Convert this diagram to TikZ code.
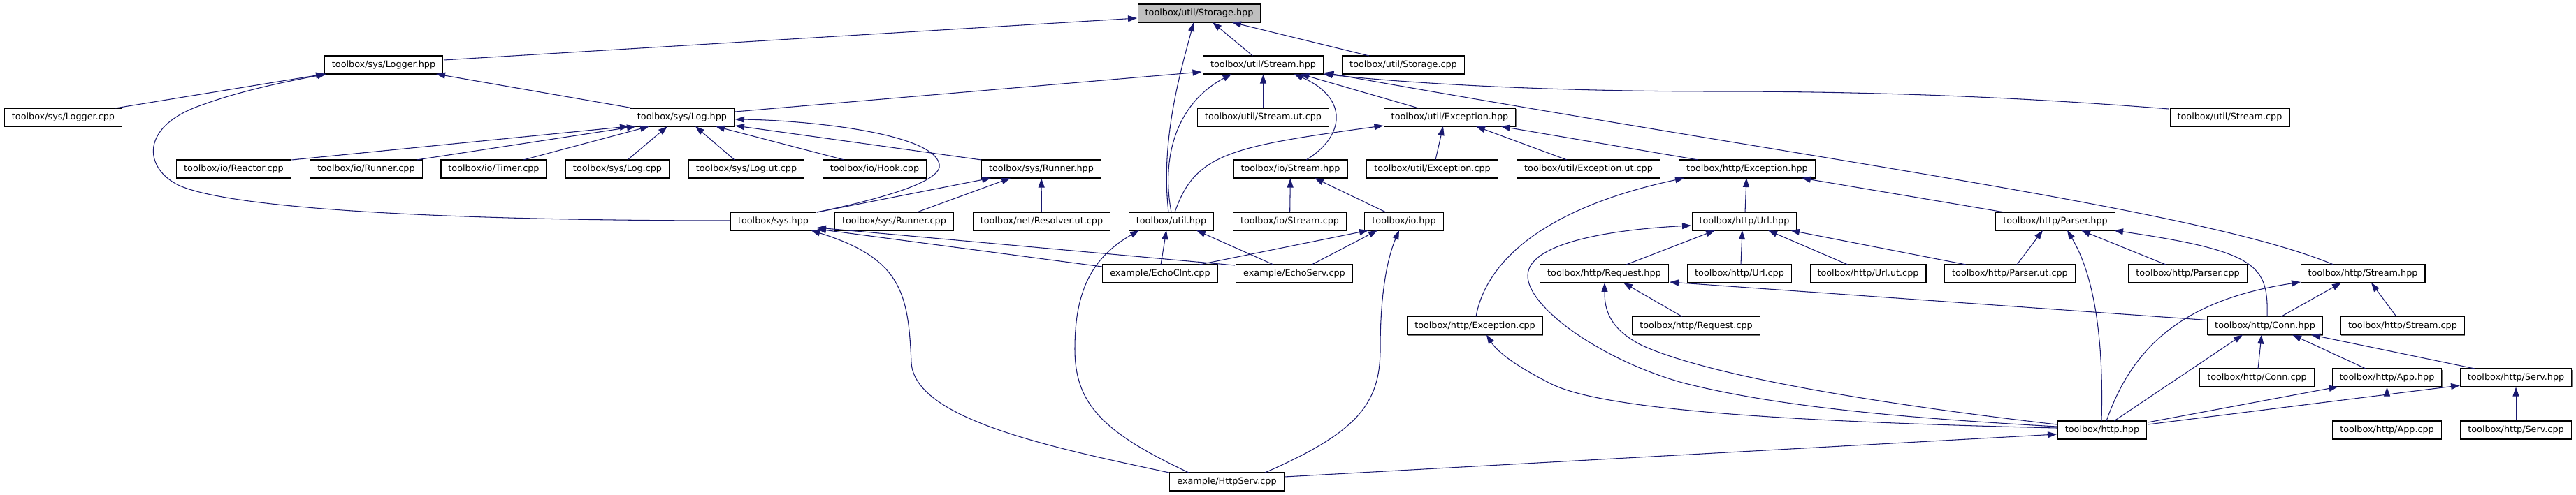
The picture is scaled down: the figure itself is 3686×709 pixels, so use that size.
\documentclass[tikz,border=0pt]{standalone}
\usepackage{fontspec}
\setmainfont{DejaVu Sans}
\usetikzlibrary{arrows.meta,calc,shadows}
\definecolor{edgeblue}{HTML}{191970}
\definecolor{rootgray}{HTML}{BFBFBF}
\begin{document}
\begin{tikzpicture}[x=0.02cm,y=-0.02cm,
  box/.style={draw=black, line width=0.65pt, fill=white,
    font=\fontsize{7.28pt}{8.7pt}\selectfont, inner xsep=0.21cm, inner ysep=0pt,
    minimum height=0.52cm,
    general shadow={fill=black!55, shadow xshift=0.015cm, shadow yshift=-0.03cm}},
  dep/.style={draw=edgeblue, line width=0.6pt, -{Triangle[length=0.26cm,width=0.18cm]}}]
\useasboundingbox (0,0) rectangle (3686,709);
% row 1
\node[box, fill=rootgray] (storage) at (1716,19) {toolbox/util/Storage.hpp};
% row 2
\node[box] (logger) at (549,93) {toolbox/sys/Logger.hpp};
\node[box] (ustream) at (1807.5,93) {toolbox/util/Stream.hpp};
\node[box] (storagecpp) at (2008,93) {toolbox/util/Storage.cpp};
% row 3
\node[box] (loggercpp) at (90.5,168) {toolbox/sys/Logger.cpp};
\node[box] (log) at (976,168) {toolbox/sys/Log.hpp};
\node[box] (ustreamut) at (1807.5,168) {toolbox/util/Stream.ut.cpp};
\node[box] (uexc) at (2074.5,168) {toolbox/util/Exception.hpp};
\node[box] (ustreamcpp) at (3190.5,168) {toolbox/util/Stream.cpp};
% row 4
\node[box] (reactor) at (334.5,242) {toolbox/io/Reactor.cpp};
\node[box] (iorunner) at (524,242) {toolbox/io/Runner.cpp};
\node[box] (timer) at (706.5,242) {toolbox/io/Timer.cpp};
\node[box] (logcpp) at (883.5,242) {toolbox/sys/Log.cpp};
\node[box] (logut) at (1068,242) {toolbox/sys/Log.ut.cpp};
\node[box] (hook) at (1251.5,242) {toolbox/io/Hook.cpp};
\node[box] (srunner) at (1490,242) {toolbox/sys/Runner.hpp};
\node[box] (iostream) at (1846.5,242) {toolbox/io/Stream.hpp};
\node[box] (uexccpp) at (2049.5,242) {toolbox/util/Exception.cpp};
\node[box] (uexcut) at (2273,242) {toolbox/util/Exception.ut.cpp};
\node[box] (hexc) at (2500,242) {toolbox/http/Exception.hpp};
% row 5
\node[box] (sys) at (1106.5,317) {toolbox/sys.hpp};
\node[box] (srunnercpp) at (1279.5,317) {toolbox/sys/Runner.cpp};
\node[box] (resolver) at (1490.5,317) {toolbox/net/Resolver.ut.cpp};
\node[box] (util) at (1676,317) {toolbox/util.hpp};
\node[box] (iostreamcpp) at (1845.5,317) {toolbox/io/Stream.cpp};
\node[box] (io) at (2009,317) {toolbox/io.hpp};
\node[box] (url) at (2496,317) {toolbox/http/Url.hpp};
\node[box] (parser) at (2941,317) {toolbox/http/Parser.hpp};
% row 6
\node[box] (echoclnt) at (1660,392) {example/EchoClnt.cpp};
\node[box] (echoserv) at (1852,392) {example/EchoServ.cpp};
\node[box] (request) at (2295.5,392) {toolbox/http/Request.hpp};
\node[box] (urlcpp) at (2489,392) {toolbox/http/Url.cpp};
\node[box] (urlut) at (2673,392) {toolbox/http/Url.ut.cpp};
\node[box] (parserut) at (2876,392) {toolbox/http/Parser.ut.cpp};
\node[box] (parsercpp) at (3130.5,392) {toolbox/http/Parser.cpp};
\node[box] (hstream) at (3381,392) {toolbox/http/Stream.hpp};
% row 7
\node[box] (hexccpp) at (2110.5,466.5) {toolbox/http/Exception.cpp};
\node[box] (requestcpp) at (2427,466.5) {toolbox/http/Request.cpp};
\node[box] (conn) at (3241,466.5) {toolbox/http/Conn.hpp};
\node[box] (hstreamcpp) at (3438,466.5) {toolbox/http/Stream.cpp};
% row 8
\node[box] (conncpp) at (3229.5,541) {toolbox/http/Conn.cpp};
\node[box] (app) at (3415.5,541) {toolbox/http/App.hpp};
\node[box] (serv) at (3600,541) {toolbox/http/Serv.hpp};
% row 9
\node[box] (http) at (3008,616) {toolbox/http.hpp};
\node[box] (appcpp) at (3415.5,616) {toolbox/http/App.cpp};
\node[box] (servcpp) at (3600,616) {toolbox/http/Serv.cpp};
% row 10
\node[box] (httpserv) at (1755.5,690) {example/HttpServ.cpp};

% --- Storage.hpp
\draw[dep] ($(logger)+(86,-7)$) -- ($(storage)+(-89,7)$);
\draw[dep] ($(ustream)+(-15,-13)$) -- ($(storage)+(19,13)$);
\draw[dep] ($(storagecpp)+(-49,-13)$) -- ($(storage)+(47,13)$);
\draw[dep] ($(util)+(-4,-13)$) .. controls (1660,200) and (1690,100) .. ($(storage)+(-8,13)$);
% --- Logger.hpp
\draw[dep] ($(loggercpp)+(74.5,-13)$) -- ($(logger)+(-84,13)$);
\draw[dep] ($(log)+(-70,-13)$) -- ($(logger)+(75,13)$);
\draw[dep] ($(sys)+(-62.5,-1)$) .. controls (650,316) and (330,300) .. (255,265)
   .. controls (205,240) and (200,180) .. (290,150)
   .. controls (350,128) and (420,115) .. ($(logger)+(-82,13)$);
% --- util/Stream.hpp
\draw[dep] ($(log)+(76,-8)$) -- ($(ustream)+(-88,10)$);
\draw[dep] (ustreamut) -- (ustream);
\draw[dep] ($(uexc)+(-44.5,-13)$) -- ($(ustream)+(53,13)$);
\draw[dep] ($(iostream)+(22.5,-13)$) .. controls (1925,195) and (1930,140) .. ($(ustream)+(44,13)$);
\draw[dep] ($(util)+(0,-13)$) .. controls (1662,230) and (1680,150) .. ($(ustream)+(-45,13)$);
\draw[dep] ($(ustreamcpp)+(-87.5,-12)$) .. controls (2900,140) and (2700,131) .. (2456,131)
   .. controls (2200,131) and (2000,118) .. ($(ustream)+(86,13)$);
\draw[dep] ($(hstream)+(-42,-13)$) .. controls (3150,300) and (2600,230) .. ($(ustream)+(88,11)$);
% --- Log.hpp
\draw[dep] ($(reactor)+(83,-13)$) -- ($(log)+(-76,13)$);
\draw[dep] ($(iorunner)+(72,-13)$) -- ($(log)+(-66,13)$);
\draw[dep] ($(timer)+(42.5,-13)$) -- ($(log)+(-47,13)$);
\draw[dep] ($(logcpp)+(14.5,-13)$) -- ($(log)+(-21,13)$);
\draw[dep] ($(logut)+(-17,-13)$) -- ($(log)+(19,13)$);
\draw[dep] ($(hook)+(-43.5,-13)$) -- ($(log)+(48,13)$);
\draw[dep] ($(srunner)+(-86,-13)$) -- ($(log)+(76,12)$);
\draw[dep] ($(sys)+(62,-13)$) .. controls (1260,285) and (1350,260) .. (1344,235)
   .. controls (1335,190) and (1150,172) .. ($(log)+(76,3)$);
% --- sys/Runner.hpp
\draw[dep] ($(sys)+(62.5,-13)$) -- ($(srunner)+(-72,13)$);
\draw[dep] ($(srunnercpp)+(32.5,-13)$) -- ($(srunner)+(-44,13)$);
\draw[dep] (resolver) -- (srunner);
% --- util/Exception.hpp
\draw[dep] ($(util)+(5,-13)$) .. controls (1710,220) and (1760,210) .. ($(uexc)+(-95,12)$);
\draw[dep] ($(uexccpp)+(4.5,-13)$) -- ($(uexc)+(-9.5,13)$);
\draw[dep] ($(uexcut)+(-31,-13)$) -- ($(uexc)+(37.5,13)$);
\draw[dep] ($(hexc)+(-70,-13)$) -- ($(uexc)+(73,13)$);
% --- io/Stream.hpp
\draw[dep] (iostreamcpp) -- (iostream);
\draw[dep] ($(io)+(-26,-13)$) -- ($(iostream)+(34.5,13)$);
% --- http/Exception.hpp
\draw[dep] ($(url)+(1,-13)$) -- ($(hexc)+(-1,13)$);
\draw[dep] ($(parser)+(-73,-13)$) -- ($(hexc)+(78,13)$);
\draw[dep] ($(hexccpp)+(1.5,-13)$) .. controls (2125,380) and (2200,300) .. ($(hexc)+(-90,13)$);
% --- sys.hpp
\draw[dep] ($(echoclnt)+(-83,-10)$) -- ($(sys)+(62.5,11)$);
\draw[dep] ($(echoserv)+(-85,-12)$) -- ($(sys)+(62.5,9)$);
\draw[dep] ($(httpserv)+(-82.5,-13)$) .. controls (1500,640) and (1310,600) .. (1304,520)
   .. controls (1300,420) and (1290,370) .. ($(sys)+(54,13)$);
% --- util.hpp
\draw[dep] ($(echoclnt)+(1,-13)$) -- ($(util)+(-7,13)$);
\draw[dep] ($(echoserv)+(-30,-13)$) -- ($(util)+(36,13)$);
\draw[dep] ($(httpserv)+(-54.5,-13)$) .. controls (1580,620) and (1538,580) .. (1538,500)
   .. controls (1538,420) and (1560,370) .. ($(util)+(-46,13)$);
% --- io.hpp
\draw[dep] ($(echoclnt)+(56,-13)$) -- ($(io)+(-51,13)$);
\draw[dep] ($(echoserv)+(25,-13)$) -- ($(io)+(-38,13)$);
\draw[dep] ($(httpserv)+(54.5,-13)$) .. controls (1940,620) and (1975,580) .. (1975,500)
   .. controls (1975,420) and (1985,370) .. ($(io)+(-7,13)$);
% --- http/Url.hpp
\draw[dep] ($(http)+(-65,-5)$) .. controls (2750,600) and (2550,585) .. (2407,548)
   .. controls (2290,515) and (2186,440) .. (2186,395)
   .. controls (2186,345) and (2320,328) .. ($(url)+(-76,6)$);
\draw[dep] ($(request)+(31.5,-13)$) -- ($(url)+(-42,13)$);
\draw[dep] ($(urlcpp)+(2,-13)$) -- ($(url)+(-3,13)$);
\draw[dep] ($(urlut)+(-29,-13)$) -- ($(url)+(34,13)$);
\draw[dep] ($(parserut)+(-63,-13)$) -- ($(url)+(66,13)$);
% --- http/Parser.hpp
\draw[dep] ($(parserut)+(10,-13)$) -- ($(parser)+(-18,13)$);
\draw[dep] ($(parsercpp)+(-31.5,-13)$) -- ($(parser)+(37,13)$);
\draw[dep] ($(http)+(-1,-13)$) .. controls (3010,500) and (3000,400) .. ($(parser)+(17,13)$);
\draw[dep] ($(conn)+(3,-13)$) .. controls (3246,380) and (3230,360) .. ($(parser)+(84,13)$);
% --- http/Request.hpp
\draw[dep] ($(requestcpp)+(-20,-13)$) -- ($(request)+(27.5,13)$);
\draw[dep] ($(http)+(-65,-8)$) .. controls (2700,580) and (2450,540) .. (2350,495)
   .. controls (2300,470) and (2296,440) .. ($(request)+(0.5,13)$);
\draw[dep] ($(conn)+(-83,-8)$) -- ($(request)+(93.5,12)$);
% --- http/Stream.hpp
\draw[dep] ($(conn)+(23,-13)$) -- ($(hstream)+(-31,13)$);
\draw[dep] ($(hstreamcpp)+(-9,-13)$) -- ($(hstream)+(12,13)$);
\draw[dep] ($(http)+(6,-13)$) .. controls (3050,500) and (3120,430) .. ($(hstream)+(-89,12)$);
% --- http/Conn.hpp
\draw[dep] ($(http)+(17,-13)$) -- ($(conn)+(-32,13)$);
\draw[dep] ($(conncpp)+(1.5,-13)$) -- ($(conn)+(-5,13)$);
\draw[dep] ($(app)+(-30.5,-13)$) -- ($(conn)+(39,13)$);
\draw[dep] ($(serv)+(-59,-13)$) -- ($(conn)+(66,13)$);
% --- App / Serv
\draw[dep] ($(http)+(65,-11)$) -- ($(app)+(-70,13)$);
\draw[dep] (appcpp) -- (app);
\draw[dep] ($(http)+(65,-8)$) -- ($(serv)+(-80,11)$);
\draw[dep] (servcpp) -- (serv);
% --- http.hpp
\draw[dep] ($(httpserv)+(82.5,-7)$) -- ($(http)+(-65,6)$);
\draw[dep] ($(http)+(-65,-3)$) .. controls (2600,605) and (2300,590) .. (2220,550)
   .. controls (2160,520) and (2140,500) .. ($(hexccpp)+(16.5,13)$);
\end{tikzpicture}
\end{document}
